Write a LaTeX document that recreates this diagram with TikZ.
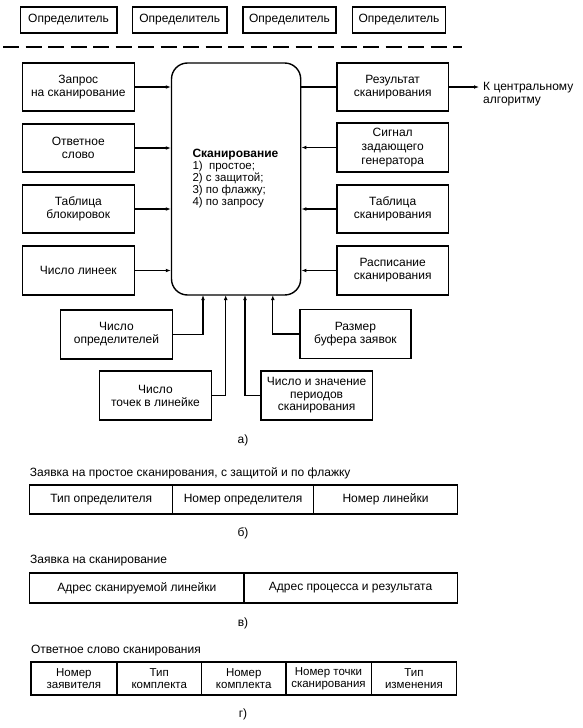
\documentclass[tikz,border=0pt]{standalone}
\usepackage{fontspec}
\setmainfont{Liberation Sans}
\usetikzlibrary{arrows.meta,calc}
\begin{document}
\begin{tikzpicture}[x=1pt,y=-1pt,
  fnt/.style={font=\fontsize{12}{13}\selectfont},
  box/.style={draw,line width=1.4pt,align=center,inner sep=0pt,fnt},
  cellg/.style={box,font=\fontsize{11.5}{11.8}\selectfont},
  arr/.style={line width=1.2pt,-{Latex[length=5pt,width=3.8pt]}},
  ln/.style={line width=1.2pt},
  lbl/.style={inner sep=0pt,fnt},
  ttl/.style={inner sep=0pt,anchor=west,fnt}]
\useasboundingbox (0,0) rectangle (582,728);
% top detectors
\node[box,minimum width=96.5pt,minimum height=26pt] (d1) at (68.6,20) {Определитель};
\node[box,minimum width=94.7pt,minimum height=26pt] (d2) at (179.8,20) {Определитель};
\node[box,minimum width=92.8pt,minimum height=26pt] (d3) at (289.5,20) {Определитель};
\node[box,minimum width=92.8pt,minimum height=26pt] (d4) at (399,20) {Определитель};
\coordinate (dl) at (3,47);
\coordinate (dr) at (462,47);
\draw[line width=1.4pt,dash pattern=on 16pt off 6.5pt] (dl) -- (dr);
% central
\node[draw,line width=1.4pt,rounded corners=16pt,minimum width=129.2pt,minimum height=232pt,inner sep=0pt] (c) at (236.1,179) {};
\node[anchor=west,align=left,inner sep=0pt,font=\fontsize{11.5}{12}\selectfont] (ctext) at (192.3,179)
  {{\fontsize{12}{12}\selectfont\textbf{Сканирование}}\\1)\ \ простое;\\2) с защитой;\\3) по флажку;\\4) по запросу};
% left column
\node[box,minimum width=112pt,minimum height=48pt] (zap) at (78.3,87) {Запрос\\на сканирование};
\node[box,minimum width=112pt,minimum height=48pt] (otv) at (78.3,148) {Ответное\\слово};
\node[box,minimum width=112pt,minimum height=48pt] (tbl) at (78.3,209) {Таблица\\блокировок};
\node[box,minimum width=112pt,minimum height=49pt] (chl) at (78.3,270.5) {Число линеек};
% right column
\node[box,minimum width=111.4pt,minimum height=48pt] (rez) at (392.7,87) {Результат\\сканирования};
\node[box,minimum width=111.4pt,minimum height=49pt,font=\fontsize{12}{13.8}\selectfont] (sig) at (392.7,147.5) {Сигнал\\задающего\\генератора};
\node[box,minimum width=111.4pt,minimum height=48pt] (tsc) at (392.7,209) {Таблица\\сканирования};
\node[box,minimum width=111.4pt,minimum height=49pt] (rsp) at (392.7,270.5) {Расписание\\сканирования};
\coordinate (kc) at (479,87);
\node[ttl,align=left] (kt) at (483,94) {К центральному\\алгоритму};
% bottom boxes
\node[box,minimum width=112.1pt,minimum height=49pt] (co) at (116.5,334.5) {Число\\определителей};
\node[box,minimum width=112.1pt,minimum height=49pt] (ct) at (155.5,395.5) {Число\\точек в линейке};
\node[box,minimum width=111.3pt,minimum height=49pt,font=\fontsize{12}{12.5}\selectfont] (cz) at (316.6,395.5) {Число и значение\\периодов\\сканирования};
\node[box,minimum width=111pt,minimum height=49pt] (rb) at (355.4,334) {Размер\\буфера заявок};
\coordinate (b1) at (203,295);
\coordinate (b2) at (225.7,295);
\coordinate (b3) at (245,295);
\coordinate (b4) at (272.8,295);
% connectors
\draw[arr] (zap.east) -- (zap.east -| c.west);
\draw[arr] (otv.east) -- (otv.east -| c.west);
\draw[arr] (tbl.east) -- (tbl.east -| c.west);
\draw[arr] (chl.east) -- (chl.east -| c.west);
\draw[ln] (rez.west -| c.east) -- (rez.west);
\draw[arr] (rez.east) -- (kc);
\draw[arr] (sig.west) -- (sig.west -| c.east);
\draw[arr] (tsc.west) -- (tsc.west -| c.east);
\draw[arr] (rsp.west) -- (rsp.west -| c.east);
\draw[arr] (co.east) -| (b1);
\draw[arr] (ct.east) -| (b2);
\draw[arr] (cz.west) -| (b3);
\draw[arr] (rb.west) -| (b4);
\node[lbl] (la) at (243,440) {а)};
% b
\node[ttl] (tb) at (29.7,473) {Заявка на простое сканирования, с защитой и по флажку};
\node[box,minimum width=142.9pt,minimum height=29pt] (bb1) at (101.15,499.5) {Тип определителя};
\node[box,minimum width=141.1pt,minimum height=29pt] (bb2) at (243.15,499.5) {Номер определителя};
\node[box,minimum width=143.6pt,minimum height=29pt] (bb3) at (385.5,499.5) {Номер линейки};
\node[lbl] (lb) at (243,533) {б)};
% v
\node[ttl] (tv) at (30,561) {Заявка на сканирование};
\node[box,minimum width=214.2pt,minimum height=30pt] (vv1) at (136.8,588) {Адрес сканируемой линейки};
\node[box,minimum width=213.4pt,minimum height=30pt] (vv2) at (350.6,588) {Адрес процесса и результата};
\node[lbl] (lv) at (243,623) {в)};
% g
\node[ttl] (tg) at (30.8,651) {Ответное слово сканирования};
\node[cellg,minimum width=86.1pt,minimum height=33pt] (gg1) at (73.85,678.5) {Номер\\заявителя};
\node[cellg,minimum width=84.7pt,minimum height=33pt] (gg2) at (159.25,678.5) {Тип\\комплекта};
\node[cellg,minimum width=84.2pt,minimum height=33pt] (gg3) at (243.7,678.5) {Номер\\комплекта};
\node[cellg,minimum width=85.4pt,minimum height=33pt] (gg4) at (328.5,678.5) {Номер точки\\сканирования};
\node[cellg,minimum width=85.4pt,minimum height=33pt] (gg5) at (413.9,678.5) {Тип\\изменения};
\node[lbl] (lg) at (243,714) {г)};
\end{tikzpicture}
\end{document}
